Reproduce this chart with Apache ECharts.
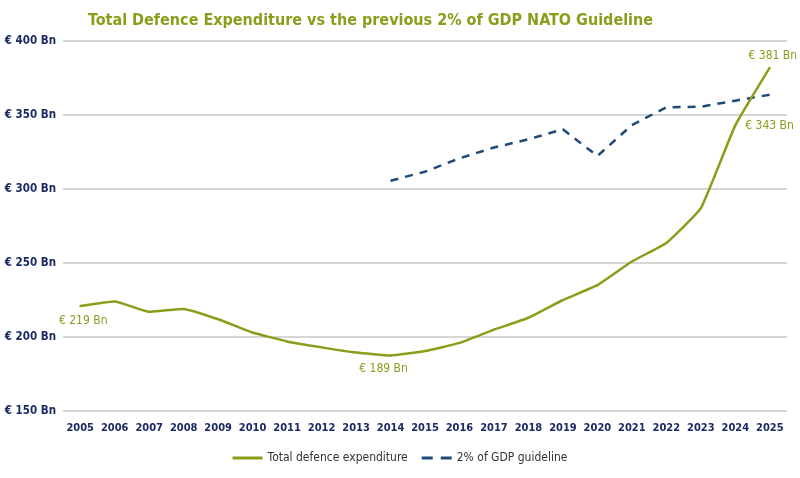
<!DOCTYPE html>
<html>
<head>
<meta charset="utf-8">
<script src="https://cdn.jsdelivr.net/npm/echarts@6/dist/echarts.min.js"></script>
<style>
  html, body { margin: 0; padding: 0; background: #fff; }
  #chart { width: 800px; height: 478px; }
</style>
</head>
<body>
<div id="chart"></div>
<script>
var years = ['2005', '2006', '2007', '2008', '2009', '2010', '2011', '2012', '2013', '2014',
    '2015', '2016', '2017', '2018', '2019', '2020', '2021', '2022', '2023', '2024', '2025'];
// total defence expenditure, bn EUR
var totalSpend = [221, 224, 217, 219, 212, 203, 197, 193, 189.5, 187.5,
    190.5, 196, 205, 213, 225, 235, 251, 263.5, 287, 343, 382];
// 2% of GDP guideline, from 2014
var gdpGuide = [null, null, null, null, null, null, null, null, null, 305.6,
    311.7, 320.7, 328, 333.6, 340.3, 322.3, 343.2, 355.2, 355.6, 359.7, 363.7];
// point labels: index -> text
var labelIdx = { 0: '€ 219 Bn', 9: '€ 189 Bn', 19: '€ 343 Bn', 20: '€ 381 Bn' };

var green = '#8a9e1b';
var navy = '#1b2a63';
var dashBlue = '#1e4a7a';
var fontFam = '"DejaVu Sans Condensed", "Liberation Sans Narrow", sans-serif';

var myChart = echarts.init(document.getElementById('chart'));

var greenData = totalSpend.map(function (v, i) {
    var item = { value: v };
    if (labelIdx[i]) {
        var pos = 'bottom';
        var off = [0, 0];
        if (i === 0) { off = [3, 2]; }
        if (i === 9) { off = [-7, 0]; }
        if (i === 20) { pos = 'top'; off = [3, 1]; }
        if (i === 19) { pos = 'right'; off = [3, 1]; }
        item.label = {
            show: true,
            position: pos,
            offset: off,
            formatter: labelIdx[i]
        };
    }
    return item;
});

var option = {
    backgroundColor: '#fff',
    title: {
        text: 'Total Defence Expenditure vs the previous 2% of GDP NATO Guideline',
        left: 83,
        top: 8,
        textStyle: {
            color: green,
            fontSize: 16,
            fontWeight: 'bold',
            fontFamily: fontFam
        }
    },
    legend: {
        bottom: 9,
        left: 'center',
        itemWidth: 30,
        itemHeight: 3,
        itemGap: 14,
        textStyle: { color: '#333', fontSize: 12, fontFamily: fontFam },
        data: [
            { name: 'Total defence expenditure', icon: 'path://M0,0 L30,0 L30,3 L0,3 Z' },
            { name: '2% of GDP guideline', icon: 'path://M0,0 L11,0 L11,3 L0,3 Z M19,0 L30,0 L30,3 L19,3 Z' }
        ]
    },
    grid: {
        left: 63,
        right: 13,
        top: 41,
        bottom: 67,
        containLabel: false
    },
    xAxis: {
        type: 'category',
        data: years,
        boundaryGap: true,
        axisLine: { show: false },
        axisTick: { show: false },
        axisLabel: {
            color: navy,
            fontSize: 11,
            fontWeight: 'bold',
            fontFamily: fontFam,
            margin: 12,
            interval: 0
        }
    },
    yAxis: {
        type: 'value',
        min: 150,
        max: 400,
        interval: 50,
        axisLine: { show: false },
        axisTick: { show: false },
        axisLabel: {
            color: navy,
            fontSize: 11.5,
            fontWeight: 'bold',
            fontFamily: fontFam,
            margin: 7,
            formatter: '€ {value} Bn'
        },
        splitLine: { lineStyle: { color: '#c8c8c8', width: 1.5 } }
    },
    series: [
        {
            name: 'Total defence expenditure',
            type: 'line',
            data: greenData,
            symbol: 'circle',
            symbolSize: 2,
            showSymbol: true,
            itemStyle: { color: green },
            smooth: 0.12,
            color: green,
            lineStyle: { color: green, width: 2.5 },
            label: {
                color: green,
                fontSize: 12,
                fontFamily: fontFam,
                distance: 6
            },
            z: 3
        },
        {
            name: '2% of GDP guideline',
            type: 'line',
            data: gdpGuide,
            symbol: 'none',
            color: dashBlue,
            lineStyle: { color: dashBlue, width: 2.5, type: [8, 7] },
            z: 2
        }
    ]
};

myChart.setOption(option);
</script>
</body>
</html>
